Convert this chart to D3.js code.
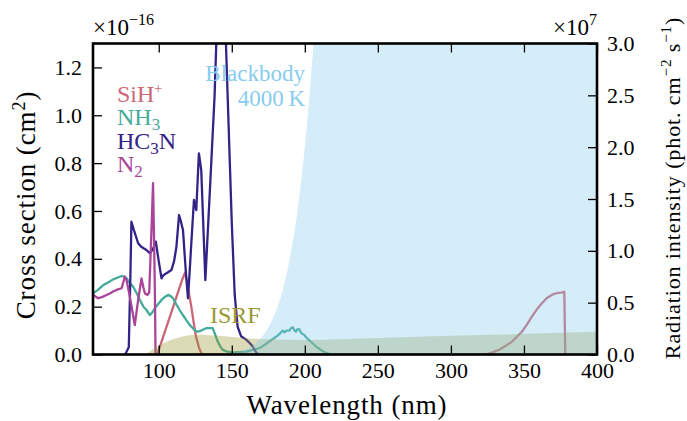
<!DOCTYPE html>
<html><head><meta charset="utf-8">
<script src="https://cdn.jsdelivr.net/npm/d3@7"></script>
<style>
body{margin:0;background:#fff}
svg{display:block}
text{font-family:"Liberation Serif","Times New Roman",serif;fill:#000}
</style>
</head><body><svg id="c" width="687" height="421"></svg>
<script>
// ---- data (wavelength in nm; cross sections in 1e-16 cm^2; radiation in 1e7 phot cm^-2 s^-1)
const hc3nX = [77,79.5,80.5,81.3,83,85.9,88,91.6,93.9,96,98,100,101.9,103,105.3,108.7,110.5,112.1,113.9,115,116.6,118.5,120,121,122.3,124.1,125.7,127.5,129.1,131.9,134.8,138.2,139.4,141,144,146,150,152,154,156.4,159.8,162,164.3,166,167.7,169];
const hc3nY = [0,0.03,0.3,0.555,0.52,0.465,0.45,0.437,0.423,0.44,0.472,0.39,0.318,0.33,0.34,0.353,0.39,0.45,0.583,0.56,0.52,0.35,0.235,0.33,0.465,0.646,0.604,0.841,0.771,0.311,0.66,1.078,1.3,1.7,1.7,1.3,0.55,0.25,0.116,0.076,0.062,0.05,0.033,0.015,0.003,0];

const nh3X = [55,58,62,65,68.8,72,74.6,76.5,78,80,82.5,85,87.1,89.5,91.6,93.9,95.5,97.3,99.5,101.9,104,106.4,108,109.8,112,114.3,116.5,118.9,121,123.4,125,126.8,129,132.5,135,137,138.5,140.4,142,143.8,147,150.6,155,160,164.3,166.7,170,173.5,177,180.3,182.5,184.8,186,187.5,189.4,190.5,191.7,193,193.9,195,196.2,197.5,199.6,202,205.3,208,211,214,216.6,220];
const nh3Y = [0.256,0.268,0.29,0.3,0.314,0.322,0.328,0.326,0.318,0.3,0.283,0.255,0.228,0.2,0.186,0.165,0.175,0.193,0.21,0.228,0.24,0.249,0.245,0.235,0.21,0.186,0.165,0.144,0.125,0.11,0.1,0.095,0.1,0.11,0.11,0.11,0.085,0.054,0.035,0.019,0.012,0.008,0.01,0.012,0.019,0.022,0.03,0.045,0.06,0.074,0.085,0.1,0.092,0.1,0.1,0.11,0.114,0.1,0.095,0.106,0.105,0.09,0.082,0.065,0.047,0.032,0.019,0.008,0.003,0];

const n2X = [55,58.6,61,64.3,66.5,68.8,71,74.6,76.8,78,80.2,82,83.6,85.9,88.2,89.5,90.5,92.3,93.5,95.2,96.1,96.9,97.5,97.8];
const n2Y = [0.249,0.235,0.24,0.249,0.255,0.263,0.27,0.277,0.325,0.31,0.242,0.18,0.123,0.228,0.318,0.28,0.256,0.249,0.26,0.55,0.716,0.45,0.2,0];

const sihX = [99,102,105,108,111,114,116.5,118,119.5,121,122.3,124,125.5,127.5,129.5,200,323.5,328,332.7,337,341.8,345,348.6,352,355.4,359,362.3,365.5,369,372.5,376.5,377.6,378.3];
const sihY = [0,0.055,0.11,0.165,0.22,0.275,0.32,0.342,0.3,0.245,0.2,0.13,0.075,0.03,0,0,0,0.008,0.019,0.034,0.054,0.073,0.095,0.125,0.158,0.19,0.214,0.235,0.249,0.257,0.26,0.263,0];

const isrfX = [91.2,93,96,100,105,110,115,120,125,130,140,150,160,175,200,250,300,350,400];
const isrfY = [0,0.02,0.05,0.085,0.12,0.15,0.17,0.183,0.19,0.19,0.18,0.168,0.157,0.147,0.14,0.16,0.18,0.2,0.22];

const bbX = [140,150,155,160,165,170,175,180,185,190,195,200,205,210,215,220,400];
const bbY = [0.004,0.016,0.03,0.055,0.095,0.16,0.26,0.41,0.63,0.95,1.39,2.0,2.82,3.9,5.3,7.2,900];

const xTickVals = [100,150,200,250,300,350,400];
const xTickLabels = ["100","150","200","250","300","350","400"];
const yLTickVals = [0,0.2,0.4,0.6,0.8,1.0,1.2];
const yLTickLabels = ["0.0","0.2","0.4","0.6","0.8","1.0","1.2"];
const yRTickVals = [0,0.5,1.0,1.5,2.0,2.5,3.0];
const yRTickLabels = ["0.0","0.5","1.0","1.5","2.0","2.5","3.0"];

const seriesNames = ["SiH+","NH3","HC3N","N2"];
const seriesColors = ["#CC6677","#44AA99","#332288","#AA4499"];

// ---- layout
const svg = d3.select("#c");
const m = {l:93, r:597, t:43.5, b:354.5};
const x = d3.scaleLinear().domain([55,400]).range([m.l,m.r]);
const yL = d3.scaleLinear().domain([0,1.3]).range([m.b,m.t]);
const yR = d3.scaleLinear().domain([0,3]).range([m.b,m.t]);

svg.append("defs").append("clipPath").attr("id","clip")
  .append("rect").attr("x",m.l).attr("y",m.t).attr("width",m.r-m.l).attr("height",m.b-m.t);

const plot = svg.append("g").attr("clip-path","url(#clip)");

// annotation texts (under lines)
const lab = svg.append("g").style("font-size","24px");
const yLeg = [101.5,125,148.5,172];
let t = lab.append("text").attr("x",117).attr("y",yLeg[0]).style("fill",seriesColors[0]);
t.append("tspan").text("SiH");
t.append("tspan").attr("dy",-9).style("font-size","14px").text("+");
t = lab.append("text").attr("x",117).attr("y",yLeg[1]).style("fill",seriesColors[1]);
t.append("tspan").text("NH");
t.append("tspan").attr("dy",5).style("font-size","17px").text("3");
t = lab.append("text").attr("x",117).attr("y",yLeg[2]).style("fill",seriesColors[2]);
t.append("tspan").text("HC");
t.append("tspan").attr("dy",5).style("font-size","17px").text("3");
t.append("tspan").attr("dy",-5).text("N");
t = lab.append("text").attr("x",117).attr("y",yLeg[3]).style("fill",seriesColors[3]);
t.append("tspan").text("N");
t.append("tspan").attr("dy",5).style("font-size","17px").text("2");

lab.append("text").attr("x",305).attr("y",80.5).attr("text-anchor","end")
  .style("font-size","23px").style("fill","#88CCEE").text("Blackbody");
lab.append("text").attr("x",305).attr("y",105.5).attr("text-anchor","end")
  .style("font-size","23px").style("fill","#88CCEE").text("4000\u2009K");
lab.append("text").attr("x",210).attr("y",323).style("fill","#999933").text("ISRF");

// curves
const line = d3.line().x(d=>x(d[0])).y(d=>yL(d[1]));
const series = [
  {x:sihX,y:sihY,c:seriesColors[0]},
  {x:nh3X,y:nh3Y,c:seriesColors[1]},
  {x:hc3nX,y:hc3nY,c:seriesColors[2]},
  {x:n2X,y:n2Y,c:seriesColors[3]}
];
series.forEach(s=>{
  plot.append("path").datum(d3.zip(s.x,s.y)).attr("d",line)
    .attr("fill","none").attr("stroke",s.c).attr("stroke-width",2.3)
    .attr("stroke-linejoin","round").attr("stroke-linecap","round");
});

// fills
plot.append("path").datum(d3.zip(isrfX,isrfY))
  .attr("d",d3.area().x(d=>x(d[0])).y0(yR(0)).y1(d=>yR(d[1])).curve(d3.curveMonotoneX))
  .attr("fill","#999933").attr("fill-opacity",0.35);
plot.append("path").datum(d3.zip(bbX,bbY))
  .attr("d",d3.area().x(d=>x(d[0])).y0(yR(0)).y1(d=>yR(Math.min(d[1],50))).curve(d3.curveMonotoneX))
  .attr("fill","#88CCEE").attr("fill-opacity",0.35);

// axes
function styleAxis(g){
  g.select(".domain").remove();
  g.selectAll(".tick line").attr("stroke","#000").attr("stroke-width",1.3);
  g.selectAll(".tick text").style("font-size","22px").attr("fill","#000");
}
svg.append("g").attr("transform",`translate(0,${m.b})`)
  .call(d3.axisBottom(x).tickValues(xTickVals).tickFormat((d,i)=>xTickLabels[i]).tickSize(-9).tickPadding(8))
  .call(styleAxis);
svg.append("g").attr("transform",`translate(0,${m.t})`)
  .call(d3.axisTop(x).tickValues(xTickVals).tickFormat("").tickSize(-9))
  .call(styleAxis);
svg.append("g").attr("transform",`translate(${m.l},0)`)
  .call(d3.axisLeft(yL).tickValues(yLTickVals).tickFormat((d,i)=>yLTickLabels[i]).tickSize(-9).tickPadding(11))
  .call(styleAxis);
svg.append("g").attr("transform",`translate(${m.r},0)`)
  .call(d3.axisRight(yR).tickValues(yRTickVals).tickFormat((d,i)=>yRTickLabels[i]).tickSize(-9).tickPadding(10))
  .call(styleAxis);

// frame
svg.append("rect").attr("x",m.l).attr("y",m.t).attr("width",m.r-m.l).attr("height",m.b-m.t)
  .attr("fill","none").attr("stroke","#000").attr("stroke-width",2.6);

// offset texts
t = svg.append("text").attr("x",93).attr("y",35).style("font-size","23px");
t.append("tspan").text("\u00d710");
t.append("tspan").attr("dy",-10).style("font-size","16px").text("\u221216");
t = svg.append("text").attr("x",597).attr("y",35).attr("text-anchor","end").style("font-size","23px");
t.append("tspan").text("\u00d710");
t.append("tspan").attr("dy",-10).style("font-size","16px").text("7");

// axis labels
svg.append("text").attr("x",347).attr("y",414).attr("text-anchor","middle")
  .style("font-size","27px").style("letter-spacing","0.9px").text("Wavelength (nm)");
t = svg.append("text").attr("transform","translate(35,205) rotate(-90)").attr("text-anchor","middle")
  .style("font-size","27px").style("letter-spacing","0.9px");
t.append("tspan").text("Cross section (cm");
t.append("tspan").attr("dy",-10).style("font-size","18px").text("2");
t.append("tspan").attr("dy",10).text(")");
t = svg.append("text").attr("transform","translate(680,188) rotate(-90)").attr("text-anchor","middle")
  .style("font-size","22px").style("letter-spacing","0.9px");
t.append("tspan").text("Radiation intensity (phot. cm");
t.append("tspan").attr("dy",-9).style("font-size","15px").text("\u22122");
t.append("tspan").attr("dy",9).text(" s");
t.append("tspan").attr("dy",-9).style("font-size","15px").text("\u22121");
t.append("tspan").attr("dy",9).text(")");
</script>
</body></html>
